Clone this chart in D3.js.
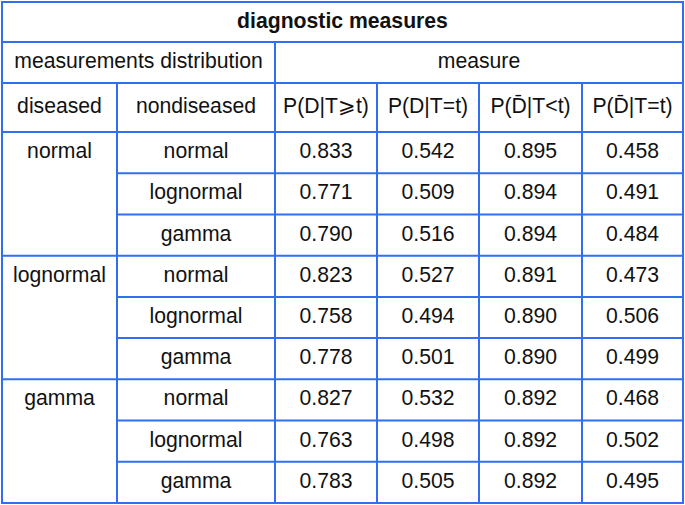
<!DOCTYPE html>
<html>
<head>
<meta charset="utf-8">
<script src="https://cdn.jsdelivr.net/npm/d3@7"></script>
<style>
  html, body { margin: 0; padding: 0; background: #fff; }
  svg { display: block; }
</style>
</head>
<body>
<div class="containers"></div>
<script>
const title = 'diagnostic measures'
const groupHeader = 'measurements distribution'
const measureHeader = 'measure'
const distHeaders = ['diseased', 'nondiseased']
const measureNames = ['P(D|T\u2A7Et)', 'P(D|T=t)', 'P(D\u0304|T<t)', 'P(D\u0304|T=t)']
const diseased = ['normal', 'lognormal', 'gamma']
const nondiseased = ['normal', 'lognormal', 'gamma']
const pDge = [0.833, 0.771, 0.790, 0.823, 0.758, 0.778, 0.827, 0.763, 0.783]
const pDeq = [0.542, 0.509, 0.516, 0.527, 0.494, 0.501, 0.532, 0.498, 0.505]
const pNlt = [0.895, 0.894, 0.894, 0.891, 0.890, 0.890, 0.892, 0.892, 0.892]
const pNeq = [0.458, 0.491, 0.484, 0.473, 0.506, 0.499, 0.468, 0.502, 0.495]

const width = 685
const height = 505
const lineColor = '#2f6ff0'
const font = '"Liberation Sans", Arial, sans-serif'
const fontSize = 21.2
const dy = -2 // text sits a little above cell middle

// column edges (x) and header row edges (y)
const colEdges = [2, 117, 275, 377, 479, 582, 683]
const titleY = [2, 42]
const groupY = [42, 83]
const headY = [83, 132]
const bodyTop = 132
const bodyBottom = 503

const rows = []
diseased.forEach((dis, i) => {
  nondiseased.forEach((non, j) => {
    const k = i * nondiseased.length + j
    rows.push({ dis, non, first: j === 0, vals: [pDge[k], pDeq[k], pNlt[k], pNeq[k]] })
  })
})

const y = d3.scaleLinear().domain([0, rows.length]).range([bodyTop, bodyBottom])

const svg = d3.select('.containers')
  .append('svg')
  .attr('width', width)
  .attr('height', height)
  .attr('viewBox', [0, 0, width, height])

const lines = svg.append('g')
  .attr('stroke', lineColor)
  .attr('stroke-width', 2)
  .attr('fill', 'none')

const hline = (x1, x2, yy) => lines.append('line').attr('x1', x1).attr('x2', x2).attr('y1', yy).attr('y2', yy)
const vline = (xx, y1, y2) => lines.append('line').attr('x1', xx).attr('x2', xx).attr('y1', y1).attr('y2', y2)

const L = colEdges[0]
const R = colEdges[colEdges.length - 1]

// outer + header rules
lines.append('rect')
  .attr('x', L).attr('y', titleY[0])
  .attr('width', R - L).attr('height', bodyBottom - titleY[0])
hline(L, R, titleY[1])
hline(L, R, groupY[1])
hline(L, R, headY[1])
vline(colEdges[2], groupY[0], bodyBottom)
vline(colEdges[1], headY[0], bodyBottom)
for (let c = 3; c < colEdges.length - 1; c++) vline(colEdges[c], headY[0], bodyBottom)

// body rules: group separators span full width, inner ones skip diseased column
rows.forEach((r, i) => {
  if (i === 0) return
  hline(r.first ? L : colEdges[1], R, y(i))
})

const text = svg.append('g')
  .attr('font-family', font)
  .attr('font-size', fontSize)
  .attr('fill', '#111')
  .attr('text-anchor', 'middle')
  .attr('dominant-baseline', 'central')

const mid = (a, b) => (a + b) / 2

text.append('text')
  .attr('x', mid(L, R)).attr('y', mid(titleY[0], titleY[1]) + dy)
  .attr('font-weight', 'bold')
  .text(title)

text.append('text')
  .attr('x', mid(L, colEdges[2])).attr('y', mid(groupY[0], groupY[1]) + dy)
  .text(groupHeader)

text.append('text')
  .attr('x', mid(colEdges[2], R)).attr('y', mid(groupY[0], groupY[1]) + dy)
  .text(measureHeader)

const headers = distHeaders.concat(measureNames)
text.selectAll('text.head')
  .data(headers)
  .join('text')
  .attr('class', 'head')
  .attr('x', (d, i) => mid(colEdges[i], colEdges[i + 1]))
  .attr('y', mid(headY[0], headY[1]) + dy)
  .text(d => d)

const rowG = text.selectAll('g.row')
  .data(rows)
  .join('g')
  .attr('class', 'row')
  .attr('transform', (d, i) => `translate(0,${mid(y(i), y(i + 1)) + dy})`)

rowG.filter(d => d.first)
  .append('text')
  .attr('x', mid(colEdges[0], colEdges[1]))
  .text(d => d.dis)

rowG.append('text')
  .attr('x', mid(colEdges[1], colEdges[2]))
  .text(d => d.non)

rowG.selectAll('text.val')
  .data(d => d.vals)
  .join('text')
  .attr('class', 'val')
  .attr('x', (d, i) => mid(colEdges[i + 2], colEdges[i + 3]))
  .text(d => d3.format('.3f')(d))
</script>
</body>
</html>
